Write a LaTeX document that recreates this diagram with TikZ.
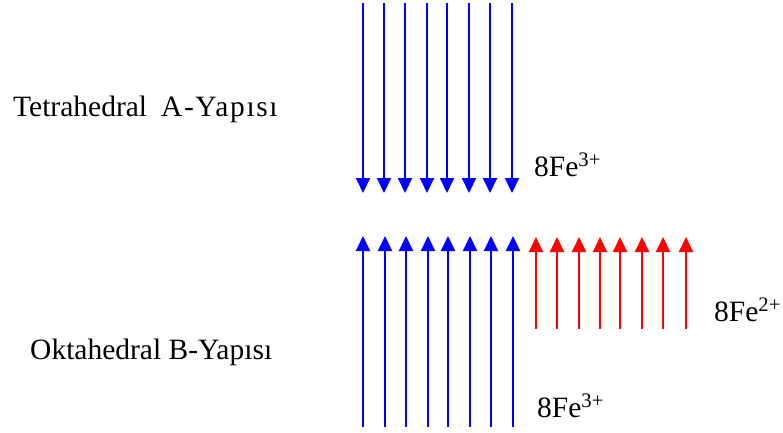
\documentclass[tikz,border=0pt]{standalone}
\usepackage{fontspec}
\setmainfont{Liberation Serif}
\usetikzlibrary{arrows.meta}
\begin{document}
\begin{tikzpicture}[x=1pt,y=-1pt,
  spin/.style={line width=2pt,-{Triangle[width=14pt,length=15pt]}},
  lbl/.style={anchor=base west,inner sep=0pt,font=\fontsize{29.5}{34}\selectfont}]
\useasboundingbox (0,0) rectangle (783,432);
% tetrahedral A-site spins (down)
\foreach \x [count=\i] in {363,384,405,427,447,469,490,512} {
  \coordinate (at\i) at (\x,3);
  \coordinate (ab\i) at (\x,193);
  \draw[spin,blue] (at\i) -- (ab\i);
}
% octahedral B-site Fe3+ spins (up)
\foreach \x [count=\i] in {363,385,406,428,448,470,491,513} {
  \coordinate (bb\i) at (\x,427);
  \coordinate (bt\i) at (\x,236);
  \draw[spin,blue] (bb\i) -- (bt\i);
}
% octahedral B-site Fe2+ spins (up)
\foreach \x [count=\i] in {536,557,579,600,620,642,663,686} {
  \coordinate (rb\i) at (\x,329);
  \coordinate (rt\i) at (\x,237);
  \draw[spin,red] (rb\i) -- (rt\i);
}
\node[lbl] (tetra) at (13,116) {Tetrahedral\hspace{14pt}{\addfontfeature{LetterSpace=5.5}A-Yapısı}};
\node[lbl] (okta) at (30,359) {Oktahedral B-Yapısı};
\node[lbl] (fea) at (534,176) {8Fe\textsuperscript{3+}};
\node[lbl] (feb) at (714,321) {8Fe\textsuperscript{2+}};
\node[lbl] (fec) at (537,417) {8Fe\textsuperscript{3+}};
\end{tikzpicture}
\end{document}
